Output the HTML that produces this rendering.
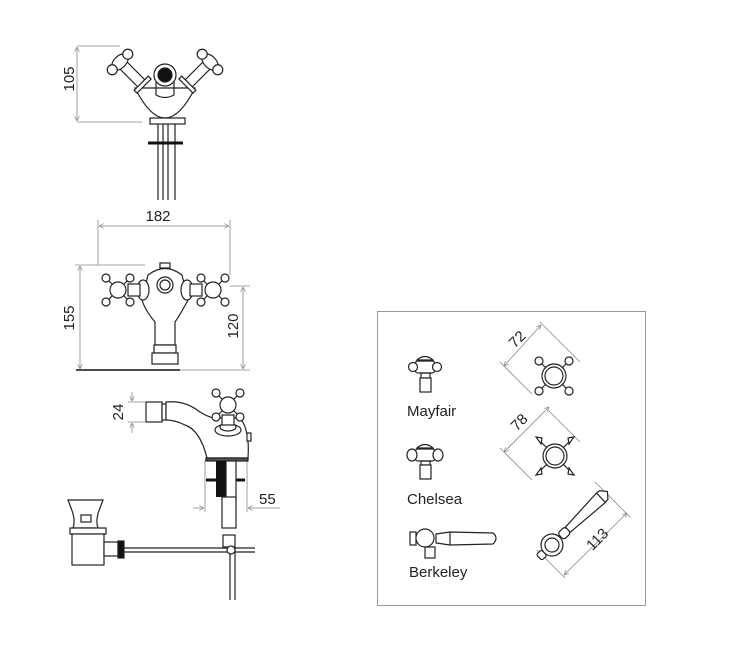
<!DOCTYPE html>
<html><head><meta charset="utf-8"><style>
html,body{margin:0;padding:0;background:#fff;width:735px;height:652px;overflow:hidden}
text{font-family:"Liberation Sans",sans-serif;fill:#222}
</style></head><body>
<svg width="735" height="652" viewBox="0 0 735 652" xmlns="http://www.w3.org/2000/svg">
<defs>
<marker id="a" viewBox="0 0 10 10" refX="10" refY="5" markerWidth="6" markerHeight="6" orient="auto-start-reverse"><path d="M0,0 L10,5 L0,10" fill="none" stroke="#888" stroke-width="1.5"/></marker>
<g id="cross">
<circle cx="0" cy="0" r="8" fill="#fff" stroke="#222" stroke-width="1.2"/>
<g stroke="#222" stroke-width="1.2" fill="#fff">
<line x1="-6" y1="-6" x2="-10" y2="-10"/><line x1="6" y1="-6" x2="10" y2="-10"/>
<line x1="-6" y1="6" x2="-10" y2="10"/><line x1="6" y1="6" x2="10" y2="10"/>
<circle cx="-12" cy="-12" r="4"/><circle cx="12" cy="-12" r="4"/><circle cx="-12" cy="12" r="4"/><circle cx="12" cy="12" r="4"/>
</g></g>
</defs>
<g fill="none" stroke="#222" stroke-width="1.2">
<!-- TOP VIEW -->
<g stroke="#888" stroke-width="0.8">
<line x1="77" y1="46" x2="120" y2="46"/><line x1="77" y1="122" x2="142" y2="122"/>
<line x1="77" y1="47" x2="77" y2="121" marker-start="url(#a)" marker-end="url(#a)"/>
</g>
<path d="M135,88 Q150,118 165,118 Q180,118 195,88 Z" fill="#fff"/>
<rect x="150" y="118" width="35" height="6" fill="#fff"/>
<g transform="translate(120,62) rotate(-45)"><rect x="-5" y="4" width="10" height="28" fill="#fff"/><rect x="-10" y="30" width="20" height="4" fill="#fff"/><ellipse cx="0" cy="0" rx="10" ry="6" fill="#fff"/><circle cx="-11" cy="0" r="5" fill="#fff"/><circle cx="11" cy="0" r="5" fill="#fff"/></g>
<g transform="translate(210,62) rotate(45)"><rect x="-5" y="4" width="10" height="28" fill="#fff"/><rect x="-10" y="30" width="20" height="4" fill="#fff"/><ellipse cx="0" cy="0" rx="10" ry="6" fill="#fff"/><circle cx="-11" cy="0" r="5" fill="#fff"/><circle cx="11" cy="0" r="5" fill="#fff"/></g>
<circle cx="165" cy="75" r="11" fill="#fff"/><circle cx="165" cy="75" r="7" fill="#111"/>
<path d="M156,82 L156,95 Q165,100 174,95 L174,82"/>
<line x1="158" y1="124" x2="158" y2="200"/><line x1="163" y1="124" x2="163" y2="200"/>
<line x1="168" y1="124" x2="168" y2="200"/><line x1="175" y1="124" x2="175" y2="200"/>
<line x1="148" y1="143" x2="183" y2="143" stroke="#111" stroke-width="3"/>
<!-- FRONT VIEW -->
<g stroke="#888" stroke-width="0.8">
<line x1="98" y1="220" x2="98" y2="265"/><line x1="230" y1="220" x2="230" y2="275"/>
<line x1="99" y1="226" x2="229" y2="226" marker-start="url(#a)" marker-end="url(#a)"/>
<line x1="75" y1="265" x2="145" y2="265"/>
<line x1="80" y1="266" x2="80" y2="369" marker-start="url(#a)" marker-end="url(#a)"/>
<line x1="230" y1="286" x2="250" y2="286"/><line x1="180" y1="370" x2="250" y2="370"/>
<line x1="243" y1="287" x2="243" y2="369" marker-start="url(#a)" marker-end="url(#a)"/>
</g>
<line x1="76" y1="370" x2="180" y2="370" stroke="#111" stroke-width="1.5"/>
<path d="M148,275 Q165,262 182,275 L188,300 Q180,315 175,322 L175,345 L155,345 L155,322 Q145,310 142,300 Z" fill="#fff"/>
<rect x="160" y="263" width="10" height="5" fill="#fff"/>
<circle cx="165" cy="285" r="8" fill="#fff"/><circle cx="165" cy="285" r="5"/>
<rect x="154" y="345" width="22" height="8" fill="#fff"/><rect x="152" y="353" width="26" height="11" fill="#fff"/>
<ellipse cx="143" cy="290" rx="6" ry="10" fill="#fff"/><ellipse cx="187" cy="290" rx="6" ry="10" fill="#fff"/>
<rect x="128" y="284" width="12" height="12" fill="#fff"/><rect x="190" y="284" width="12" height="12" fill="#fff"/>
<use href="#cross" x="118" y="290"/><use href="#cross" x="213" y="290"/>
<!-- SIDE VIEW -->
<g stroke="#888" stroke-width="0.8">
<line x1="128" y1="402" x2="145" y2="402"/><line x1="128" y1="422" x2="145" y2="422"/>
<line x1="132" y1="392" x2="132" y2="401" marker-end="url(#a)"/><line x1="132" y1="433" x2="132" y2="423" marker-end="url(#a)"/>
<line x1="205" y1="460" x2="205" y2="512"/><line x1="247" y1="460" x2="247" y2="512"/>
<line x1="193" y1="508" x2="204" y2="508" marker-end="url(#a)"/><line x1="280" y1="508" x2="248" y2="508" marker-end="url(#a)"/>
</g>
<rect x="146" y="402" width="16" height="20" fill="#fff"/><rect x="162" y="404" width="4" height="16" fill="#fff"/>
<path d="M166,402 Q185,400 200,412 Q210,418 215,418 L240,418 Q250,430 248,458 L207,458 Q200,430 185,425 Q175,420 166,420 Z" fill="#fff"/>
<ellipse cx="228" cy="430" rx="13" ry="6" fill="#fff"/><ellipse cx="228" cy="427" rx="8" ry="4"/>
<rect x="222" y="415" width="12" height="10" fill="#fff"/>
<use href="#cross" x="228" y="405"/>
<rect x="247" y="433" width="4" height="8" fill="#fff"/>
<rect x="206" y="458" width="42" height="3" fill="#555"/>
<rect x="216" y="461" width="10" height="36" fill="#111" stroke="none"/>
<line x1="206" y1="480" x2="245" y2="480" stroke="#111" stroke-width="3"/>
<rect x="226" y="461" width="10" height="40" fill="#fff"/>
<rect x="222" y="497" width="14" height="31" fill="#fff"/>
<rect x="223" y="535" width="12" height="12" fill="#fff"/>
<line x1="120" y1="548" x2="255" y2="548"/><line x1="120" y1="552" x2="255" y2="552"/>
<line x1="230" y1="547" x2="230" y2="600"/><line x1="235" y1="547" x2="235" y2="600"/>
<circle cx="231" cy="550" r="4" fill="#fff"/>
<path d="M68,500 L103,500 L100,508 Q95,520 98,528 L73,528 Q76,520 71,508 Z" fill="#fff"/>
<rect x="81" y="515" width="10" height="7"/>
<rect x="70" y="528" width="36" height="6" fill="#fff"/>
<rect x="72" y="534" width="32" height="31" fill="#fff"/>
<rect x="104" y="542" width="14" height="14" fill="#fff"/>
<rect x="118" y="541" width="6" height="17" fill="#111"/>
<!-- RIGHT BOX -->
<rect x="377.5" y="311.5" width="268" height="294" stroke="#999" stroke-width="1"/>
<!-- Mayfair -->
<path d="M417,360 Q425,353 433,360 Z" fill="#fff"/>
<rect x="415" y="361" width="20" height="12" rx="3" fill="#fff"/>
<circle cx="413" cy="367" r="4.5" fill="#fff"/><circle cx="437" cy="367" r="4.5" fill="#fff"/>
<rect x="421" y="373" width="9" height="5"/><rect x="420" y="378" width="11" height="14" fill="#fff"/>
<!-- Chelsea -->
<path d="M417,448 Q425,441 433,448 Z" fill="#fff"/>
<rect x="415" y="449" width="20" height="12" rx="3" fill="#fff"/>
<ellipse cx="412" cy="455" rx="5" ry="6" fill="#fff"/><ellipse cx="438" cy="455" rx="5" ry="6" fill="#fff"/>
<rect x="421" y="461" width="9" height="4"/><rect x="420" y="465" width="11" height="14" fill="#fff"/>
<!-- Berkeley -->
<rect x="410" y="532" width="6" height="13" fill="#fff"/>
<circle cx="425" cy="538" r="9" fill="#fff"/>
<rect x="425" y="547" width="10" height="11" fill="#fff"/>
<path d="M436,534 L450,532 L493,533 Q499,538 493,544 L450,545 L436,543 Z" fill="#fff"/>
<line x1="450" y1="532" x2="450" y2="545"/>
<!-- crosses dim -->
<g stroke="#888" stroke-width="0.8">
<line x1="540" y1="322" x2="580" y2="362"/><line x1="500" y1="362" x2="532" y2="394"/>
<line x1="504" y1="366" x2="541" y2="325" marker-start="url(#a)" marker-end="url(#a)"/>
<line x1="548" y1="410" x2="580" y2="442"/><line x1="500" y1="448" x2="532" y2="480"/>
<line x1="504" y1="452" x2="549" y2="407" marker-start="url(#a)" marker-end="url(#a)"/>
<line x1="595" y1="482" x2="630" y2="517"/><line x1="537" y1="550" x2="565" y2="578"/>
<line x1="564" y1="575" x2="627" y2="513" marker-start="url(#a)" marker-end="url(#a)"/>
</g>
<!-- Mayfair cross -->
<circle cx="554" cy="376" r="12" fill="#fff"/><circle cx="554" cy="376" r="9"/>
<g fill="#fff"><line x1="546" y1="368" x2="541" y2="363"/><line x1="562" y1="368" x2="567" y2="363"/><line x1="546" y1="384" x2="541" y2="389"/><line x1="562" y1="384" x2="567" y2="389"/>
<circle cx="539" cy="361" r="4"/><circle cx="569" cy="361" r="4"/><circle cx="539" cy="391" r="4"/><circle cx="569" cy="391" r="4"/></g>
<!-- Chelsea cross -->
<circle cx="555" cy="456" r="12" fill="#fff"/><circle cx="555" cy="456" r="9"/>
<g fill="#fff"><line x1="547" y1="448" x2="541" y2="442"/><line x1="563" y1="448" x2="569" y2="442"/><line x1="547" y1="464" x2="541" y2="470"/><line x1="563" y1="464" x2="569" y2="470"/>
<path d="M536,437 l6,1 l-1,6 z"/><path d="M574,437 l-6,1 l1,6 z"/><path d="M536,475 l6,-1 l-1,-6 z"/><path d="M574,475 l-6,-1 l1,-6 z"/></g>
<!-- Berkeley lever -->
<g transform="translate(552,545) rotate(-44)">
<path d="M22,-3.5 L68,-6.5 L72,-6 L77,0 L72,6 L68,6.5 L22,3.5 Z" fill="#fff"/>
<line x1="68" y1="-6.5" x2="68" y2="6.5"/>
<rect x="12" y="-4.5" width="10" height="9" rx="3" fill="#fff"/>
<circle cx="0" cy="0" r="11" fill="#fff"/><circle cx="0" cy="0" r="7"/>
<rect x="-18" y="-4" width="7" height="8" rx="2" fill="#fff"/>
</g>
</g>
<text x="70" y="79" font-size="15" transform="rotate(-90 70 79)" text-anchor="middle" dominant-baseline="middle">105</text>
<text x="158" y="221" font-size="15" text-anchor="middle">182</text>
<text x="70" y="318" font-size="15" transform="rotate(-90 70 318)" text-anchor="middle" dominant-baseline="middle">155</text>
<text x="234" y="326" font-size="15" transform="rotate(-90 234 326)" text-anchor="middle" dominant-baseline="middle">120</text>
<text x="119" y="412" font-size="15" transform="rotate(-90 119 412)" text-anchor="middle" dominant-baseline="middle">24</text>
<text x="259" y="504" font-size="15">55</text>
<text x="407" y="416" font-size="15">Mayfair</text>
<text x="407" y="504" font-size="15">Chelsea</text>
<text x="409" y="577" font-size="15">Berkeley</text>
<text x="518" y="340" font-size="15" transform="rotate(-45 518 340)" text-anchor="middle" dominant-baseline="middle">72</text>
<text x="520" y="423" font-size="15" transform="rotate(-45 520 423)" text-anchor="middle" dominant-baseline="middle">78</text>
<text x="598" y="540" font-size="15" transform="rotate(-45 598 540)" text-anchor="middle" dominant-baseline="middle">113</text>
</svg>
</body></html>
